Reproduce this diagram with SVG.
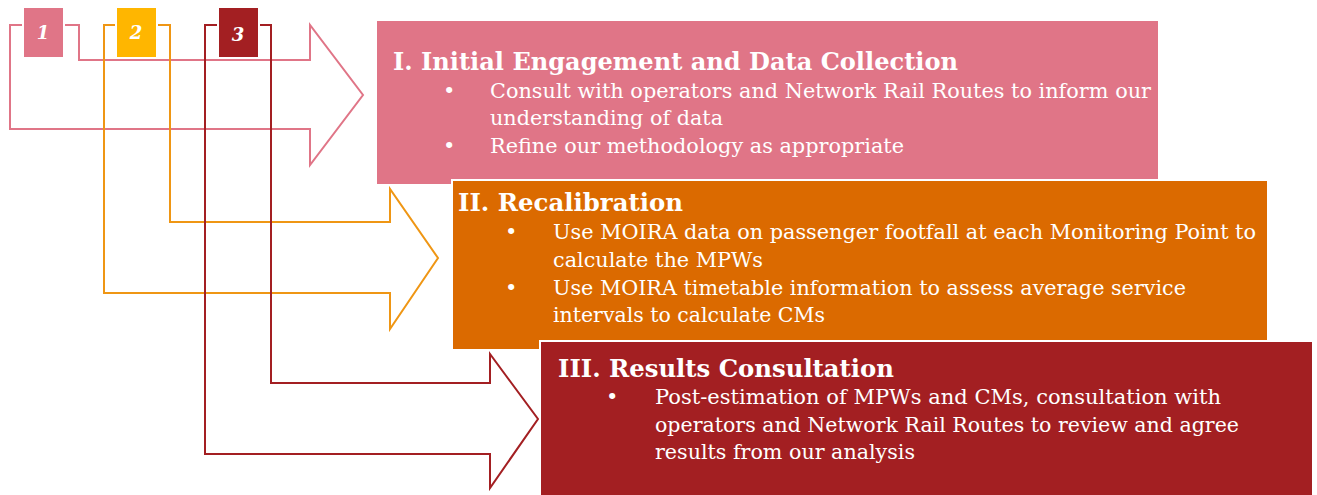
<svg xmlns="http://www.w3.org/2000/svg" width="1317" height="495" viewBox="0 0 1317 495">
<style>
  .t { font-family: "DejaVu Serif", "Liberation Serif", serif; fill: #ffffff; }
  .h { font-size: 24px; font-weight: bold; }
  .b { font-size: 21px; }
  .num { font-family: "DejaVu Serif", "Liberation Serif", serif; font-size: 18px; font-weight: bold; font-style: italic; fill: #ffffff; text-anchor: middle; }
  .br { fill: none; stroke-width: 2; stroke-linejoin: miter; }
  .box { stroke: #ffffff; stroke-width: 2; }
</style>
<rect width="1317" height="495" fill="#ffffff"/>
<g id="connectors">
  <path class="br" stroke="#E07587" d="M10,25 H79 V60 H310 V25 L363,95 L310,165 V129 H10 Z"/>
  <path class="br" stroke="#EF9614" d="M104,25 H170 V222 H390 V189 L438,258 L390,329 V293 H104 Z"/>
  <path class="br" stroke="#A31F22" d="M205,25 H271 V383 H490 V354 L538,419 L490,488 V454 H205 Z"/>
</g>
<g id="step1">
  <rect x="22" y="6" width="43" height="53" fill="#ffffff"/>
  <rect x="24" y="8" width="39" height="49" fill="#E07587"/>
  <text class="num" x="43" y="39">1</text>
</g>
<g id="step2">
  <rect x="115" y="6" width="43" height="53" fill="#ffffff"/>
  <rect x="117" y="8" width="39" height="49" fill="#FFB600"/>
  <text class="num" x="136" y="39">2</text>
</g>
<g id="step3">
  <rect x="217" y="6" width="43" height="53" fill="#ffffff"/>
  <rect x="219" y="8" width="39" height="49" fill="#A31F22"/>
  <text class="num" x="238" y="41">3</text>
</g>
<g id="box1">
  <rect class="box" x="376" y="20" width="783" height="165" fill="#E07587"/>
  <text class="t h" x="393" y="70" textLength="565" lengthAdjust="spacingAndGlyphs">I. Initial Engagement and Data Collection</text>
  <text class="t b" x="443" y="98">•</text>
  <text class="t b" x="490" y="98" textLength="661" lengthAdjust="spacingAndGlyphs">Consult with operators and Network Rail Routes to inform our</text>
  <text class="t b" x="490" y="125" textLength="233" lengthAdjust="spacingAndGlyphs">understanding of data</text>
  <text class="t b" x="443" y="153">•</text>
  <text class="t b" x="490" y="153" textLength="414" lengthAdjust="spacingAndGlyphs">Refine our methodology as appropriate</text>
</g>
<g id="box2">
  <rect class="box" x="452" y="180" width="816" height="170" fill="#DB6A00"/>
  <text class="t h" x="458" y="211" textLength="225" lengthAdjust="spacingAndGlyphs">II. Recalibration</text>
  <text class="t b" x="505" y="239">•</text>
  <text class="t b" x="553" y="239" textLength="703" lengthAdjust="spacingAndGlyphs">Use MOIRA data on passenger footfall at each Monitoring Point to</text>
  <text class="t b" x="553" y="267" textLength="210" lengthAdjust="spacingAndGlyphs">calculate the MPWs</text>
  <text class="t b" x="505" y="295">•</text>
  <text class="t b" x="553" y="295" textLength="633" lengthAdjust="spacingAndGlyphs">Use MOIRA timetable information to assess average service</text>
  <text class="t b" x="553" y="322" textLength="272" lengthAdjust="spacingAndGlyphs">intervals to calculate CMs</text>
</g>
<g id="box3">
  <rect class="box" x="540" y="341" width="773" height="160" fill="#A31F22"/>
  <text class="t h" x="558" y="377" textLength="336" lengthAdjust="spacingAndGlyphs">III. Results Consultation</text>
  <text class="t b" x="606" y="404">•</text>
  <text class="t b" x="655" y="404" textLength="566" lengthAdjust="spacingAndGlyphs">Post-estimation of MPWs and CMs, consultation with</text>
  <text class="t b" x="655" y="432" textLength="584" lengthAdjust="spacingAndGlyphs">operators and Network Rail Routes to review and agree</text>
  <text class="t b" x="655" y="459" textLength="260" lengthAdjust="spacingAndGlyphs">results from our analysis</text>
</g>
</svg>
